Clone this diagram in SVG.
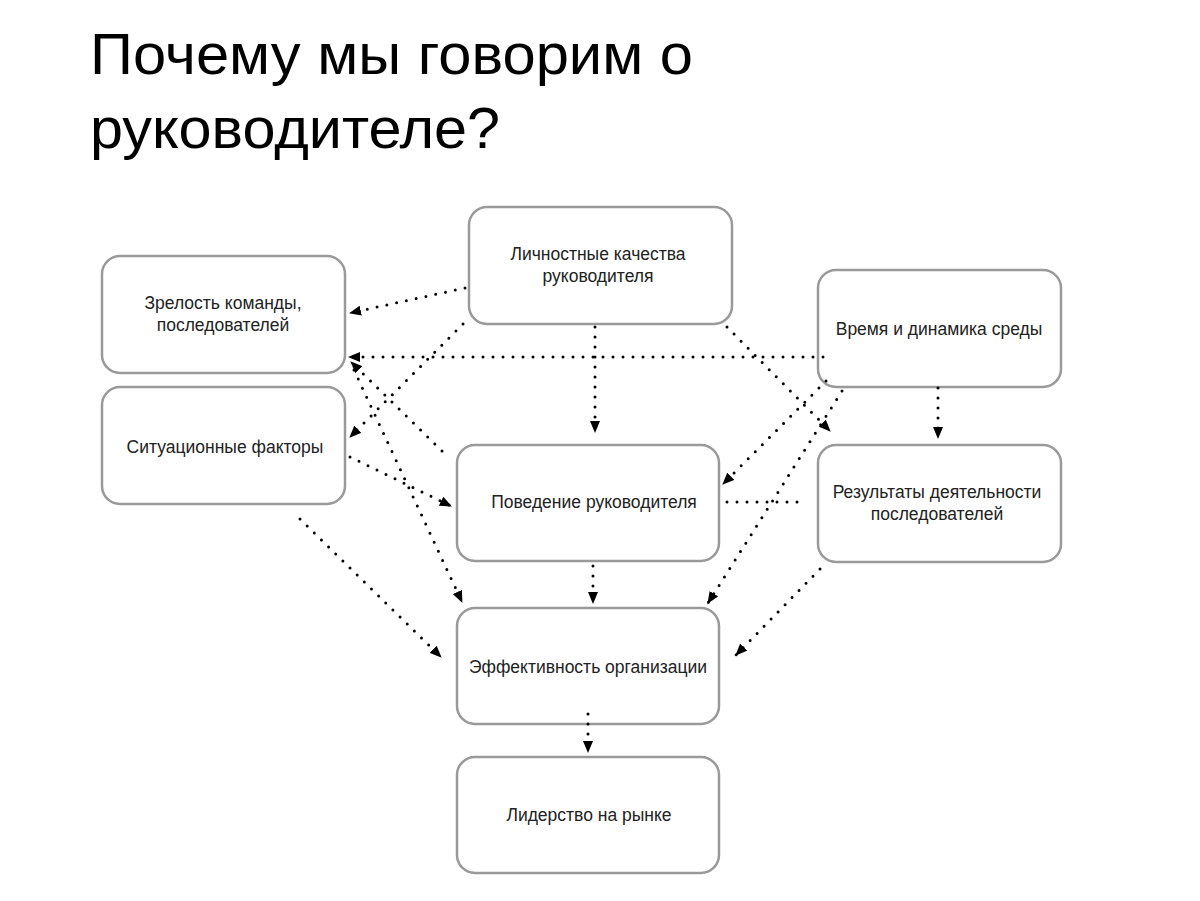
<svg xmlns="http://www.w3.org/2000/svg" width="1200" height="901" viewBox="0 0 1200 901">
<defs>
<marker id="arr" viewBox="0 0 12 10" refX="11" refY="5" markerWidth="12" markerHeight="10" markerUnits="userSpaceOnUse" orient="auto">
<path d="M0,0 L12,5 L0,10 Z" fill="#000"/>
</marker>
<style>
.box{fill:#fff;stroke:#9a9a9a;stroke-width:2.5}
.t{font-family:"Liberation Sans",Arial,sans-serif;font-size:17.5px;fill:#222;text-anchor:middle}
.title{font-family:"Liberation Sans",Arial,sans-serif;font-size:57px;fill:#000}
.c{fill:none;stroke:#000;stroke-width:3;stroke-linecap:round;stroke-dasharray:0 10;marker-end:url(#arr)}
.cn{fill:none;stroke:#000;stroke-width:3;stroke-linecap:round;stroke-dasharray:0 10}
</style>
</defs>
<rect width="1200" height="901" fill="#fff"/>
<text class="title" x="90" y="74" textLength="603" lengthAdjust="spacingAndGlyphs">Почему мы говорим о</text>
<text class="title" x="90" y="148" textLength="410" lengthAdjust="spacingAndGlyphs">руководителе?</text>

<g id="n-lichnostnye"><rect class="box" x="469" y="207" width="263" height="117" rx="18"/><text class="t" x="598" y="260">Личностные качества</text><text class="t" x="598" y="282">руководителя</text></g>
<g id="n-zrelost"><rect class="box" x="102" y="256" width="243" height="117" rx="18"/><text class="t" x="223" y="309">Зрелость команды,</text><text class="t" x="223" y="331">последователей</text></g>
<g id="n-vremya"><rect class="box" x="818" y="270" width="243" height="117" rx="18"/><text class="t" x="939" y="335">Время и динамика среды</text></g>
<g id="n-situacionnye"><rect class="box" x="102" y="387" width="243" height="117" rx="18"/><text class="t" x="225" y="453">Ситуационные факторы</text></g>
<g id="n-povedenie"><rect class="box" x="457" y="445" width="262" height="116" rx="18"/><text class="t" x="594" y="508">Поведение руководителя</text></g>
<g id="n-rezultaty"><rect class="box" x="818" y="445" width="243" height="117" rx="18"/><text class="t" x="937" y="498">Результаты деятельности</text><text class="t" x="937" y="520">последователей</text></g>
<g id="n-effektivnost"><rect class="box" x="457" y="608" width="262" height="116" rx="18"/><text class="t" x="588" y="673">Эффективность организации</text></g>
<g id="n-liderstvo"><rect class="box" x="457" y="757" width="262" height="116" rx="18"/><text class="t" x="589" y="821">Лидерство на рынке</text></g>

<g id="connectors">
<line class="c" x1="465" y1="288" x2="350" y2="313"/>
<line class="c" x1="463" y1="324" x2="350" y2="437"/>
<line class="c" x1="823" y1="357" x2="349" y2="357"/>
<line class="c" x1="595" y1="327" x2="595" y2="432"/>
<line class="c" x1="727" y1="327" x2="830" y2="431"/>
<line class="c" x1="826" y1="381" x2="723" y2="484"/>
<line class="c" x1="938" y1="388" x2="938" y2="438"/>
<line class="c" x1="842" y1="391" x2="708" y2="603"/>
<line class="cn" x1="727" y1="502" x2="803" y2="502"/>
<line class="c" x1="820" y1="569" x2="736" y2="655"/>
<line class="c" x1="442" y1="451" x2="351" y2="362"/>
<line class="c" x1="354" y1="370" x2="462" y2="602"/>
<line class="c" x1="350" y1="457" x2="451" y2="506"/>
<line class="c" x1="300" y1="519" x2="441" y2="657"/>
<line class="c" x1="593" y1="566" x2="593" y2="603"/>
<line class="c" x1="588" y1="714" x2="588" y2="752"/>
</g>
</svg>
